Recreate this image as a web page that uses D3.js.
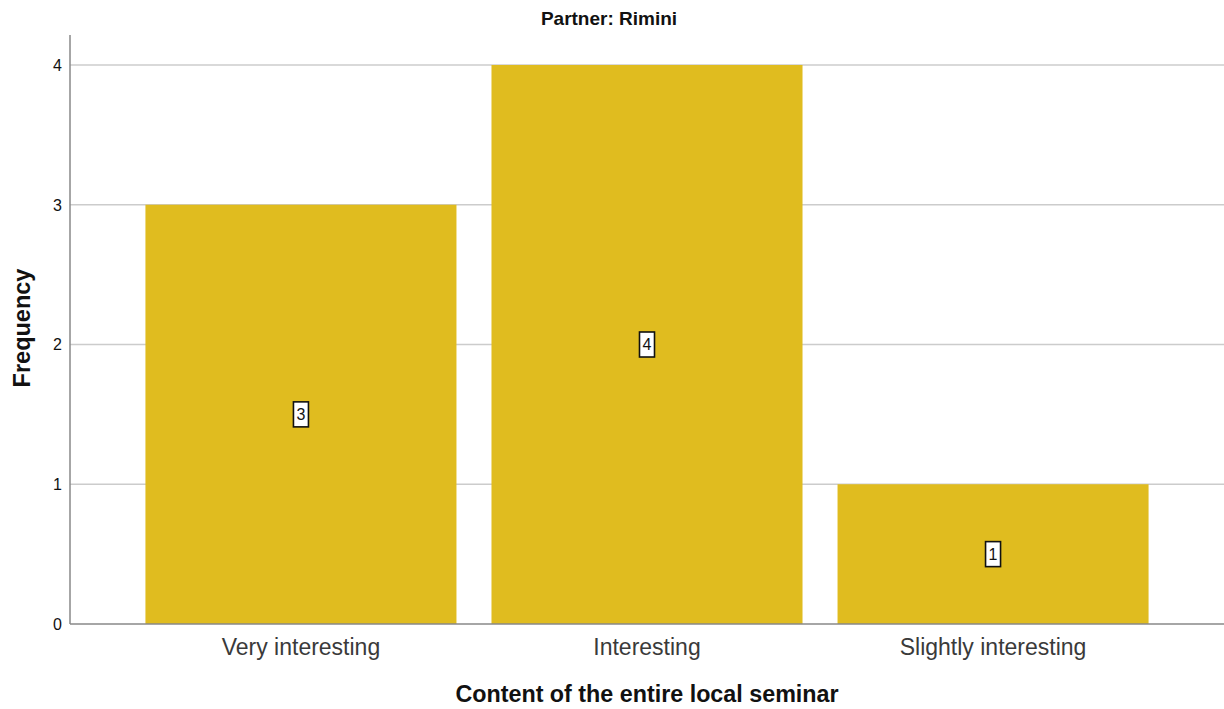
<!DOCTYPE html>
<html><head><meta charset="utf-8">
<script src="https://cdn.jsdelivr.net/npm/d3@7"></script>
<style>body{margin:0;background:#fff}svg{display:block}text{font-family:"Liberation Sans",Arial,sans-serif}</style>
</head><body>
<svg id="c" width="1224" height="709"></svg>
<script>
const categories = ["Very interesting", "Interesting", "Slightly interesting"];
const frequencies = [3, 4, 1];
const yTicks = [0, 1, 2, 3, 4];
const title = "Partner: Rimini";
const xTitle = "Content of the entire local seminar";
const yTitle = "Frequency";

(function () {
const svg = d3.select("#c");
const mLeft = 70, mRight = 1224, mTop = 35, mBottom = 624;
const x = d3.scaleBand().domain(categories).range([mLeft, mRight]).paddingInner(0.1012).paddingOuter(0.218);
const y = d3.scaleLinear().domain([0, 4]).range([mBottom, 65]);

// grid
svg.append("g").selectAll("line").data(yTicks.filter(d => d > 0)).join("line")
  .attr("x1", mLeft).attr("x2", mRight).attr("y1", d => y(d)).attr("y2", d => y(d))
  .attr("stroke", "#cccccc").attr("stroke-width", 1.6);

// bars
svg.append("g").selectAll("rect").data(frequencies).join("rect")
  .attr("x", (d, i) => x(categories[i])).attr("width", x.bandwidth())
  .attr("y", d => y(d)).attr("height", d => mBottom - y(d))
  .attr("fill", "#e0bc1f");

// axes lines
svg.append("line").attr("x1", mLeft).attr("x2", mLeft).attr("y1", mTop).attr("y2", mBottom)
  .attr("stroke", "#888").attr("stroke-width", 1.5);
svg.append("line").attr("x1", mLeft).attr("x2", mRight).attr("y1", mBottom).attr("y2", mBottom)
  .attr("stroke", "#888").attr("stroke-width", 1.5);

// y tick labels
svg.append("g").selectAll("text").data(yTicks).join("text")
  .attr("x", 62).attr("y", d => y(d)).attr("dy", "0.36em").attr("text-anchor", "end")
  .attr("font-size", 16).attr("fill", "#111").text(d => d);

// x tick labels
svg.append("g").selectAll("text").data(categories).join("text")
  .attr("x", d => x(d) + x.bandwidth() / 2).attr("y", 655).attr("text-anchor", "middle")
  .attr("font-size", 23).attr("fill", "#3a3a3a").text(d => d);

// value labels
const lab = svg.append("g").selectAll("g").data(frequencies).join("g")
  .attr("transform", (d, i) => `translate(${x(categories[i]) + x.bandwidth() / 2},${y(d / 2)})`);
lab.append("rect").attr("x", -7.5).attr("y", -12.5).attr("width", 15).attr("height", 25)
  .attr("fill", "#fff").attr("stroke", "#111").attr("stroke-width", 1.6);
lab.append("text").attr("text-anchor", "middle").attr("dy", "0.36em").attr("font-size", 16)
  .attr("fill", "#111").text(d => d);

// titles
svg.append("text").attr("x", 609).attr("y", 25).attr("text-anchor", "middle")
  .attr("font-size", 19).attr("font-weight", "bold").attr("fill", "#111").text(title);
svg.append("text").attr("x", 647).attr("y", 702).attr("text-anchor", "middle")
  .attr("font-size", 23.3).attr("font-weight", "bold").attr("fill", "#111").text(xTitle);
svg.append("text").attr("transform", "translate(30,328) rotate(-90)").attr("text-anchor", "middle")
  .attr("font-size", 23.5).attr("font-weight", "bold").attr("fill", "#111").text(yTitle);
})();
</script>
</body></html>
